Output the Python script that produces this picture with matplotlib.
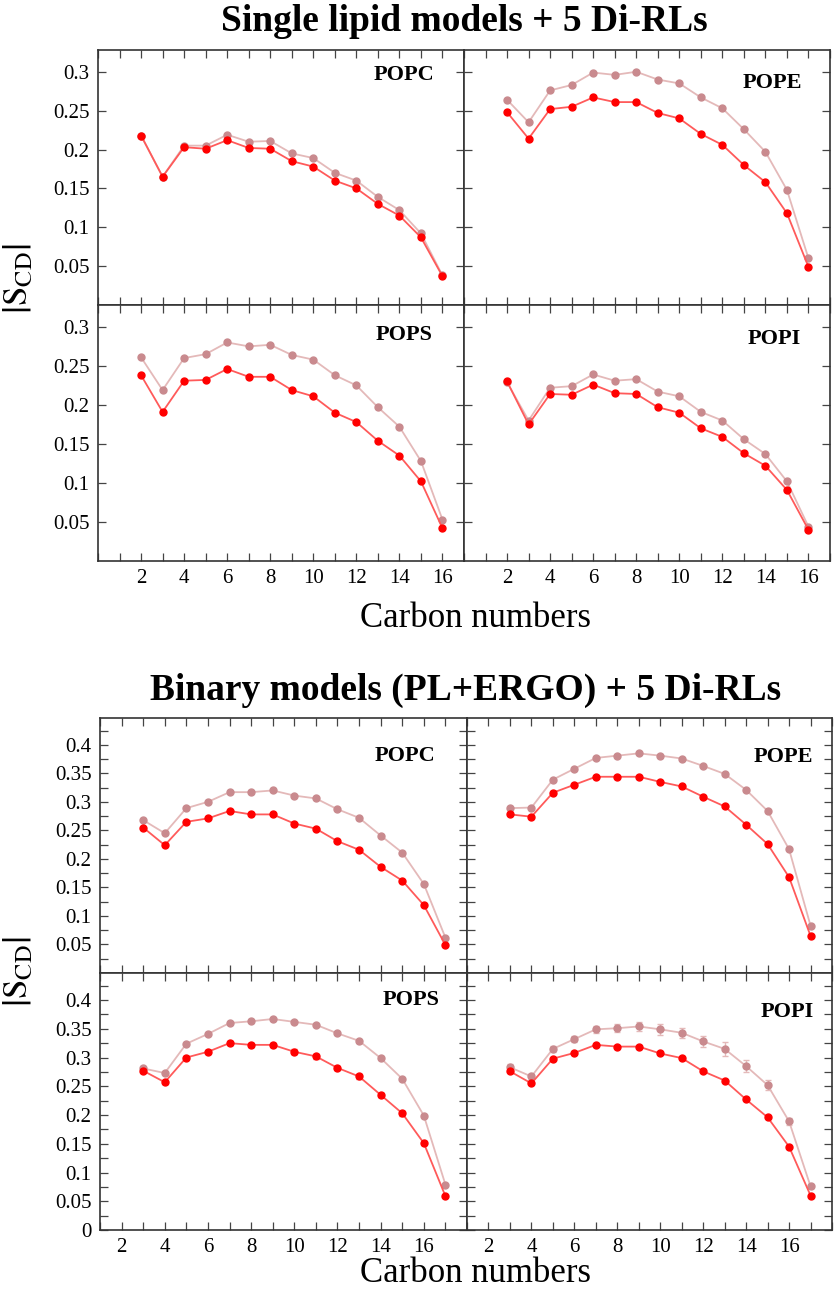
import matplotlib
matplotlib.use("Agg")
import matplotlib.pyplot as plt
from matplotlib.ticker import MultipleLocator

plt.rcParams['font.family'] = ['Liberation Serif', 'DejaVu Serif']
plt.rcParams['mathtext.fontset'] = 'stix'

# carbon positions
carbons_single = list(range(2, 17))
carbons_binary = list(range(3, 18))
xtick_vals = [2, 4, 6, 8, 10, 12, 14, 16]

# single lipid models (red = darker series, rosy = lighter series)
popc_s_red = [0.218, 0.165, 0.203, 0.201, 0.212, 0.202, 0.201, 0.185, 0.178, 0.160, 0.150, 0.130, 0.115, 0.087, 0.037]
popc_s_rosy = [0.218, 0.165, 0.205, 0.205, 0.219, 0.210, 0.211, 0.195, 0.189, 0.170, 0.160, 0.139, 0.122, 0.092, 0.038]
pope_s_red = [0.248, 0.214, 0.252, 0.255, 0.267, 0.261, 0.261, 0.247, 0.240, 0.220, 0.206, 0.180, 0.158, 0.118, 0.049]
pope_s_rosy = [0.264, 0.235, 0.276, 0.283, 0.299, 0.296, 0.300, 0.290, 0.285, 0.267, 0.253, 0.226, 0.197, 0.148, 0.060]
pops_s_red = [0.238, 0.191, 0.231, 0.232, 0.246, 0.236, 0.236, 0.219, 0.211, 0.190, 0.178, 0.154, 0.135, 0.102, 0.042]
pops_s_rosy = [0.261, 0.219, 0.260, 0.265, 0.280, 0.275, 0.277, 0.264, 0.258, 0.238, 0.225, 0.197, 0.172, 0.128, 0.053]
popi_s_red = [0.230, 0.175, 0.214, 0.213, 0.226, 0.215, 0.214, 0.197, 0.190, 0.170, 0.159, 0.138, 0.122, 0.091, 0.040]
popi_s_rosy = [0.229, 0.180, 0.222, 0.224, 0.239, 0.231, 0.233, 0.217, 0.211, 0.191, 0.180, 0.156, 0.137, 0.102, 0.044]

# binary models (PL+ERGO)
popc_b_red = [0.255, 0.224, 0.265, 0.271, 0.284, 0.278, 0.278, 0.262, 0.253, 0.231, 0.216, 0.186, 0.162, 0.119, 0.049]
popc_b_rosy = [0.268, 0.245, 0.289, 0.300, 0.317, 0.317, 0.320, 0.311, 0.306, 0.287, 0.272, 0.241, 0.211, 0.156, 0.062]
pope_b_red = [0.278, 0.274, 0.316, 0.330, 0.344, 0.344, 0.344, 0.335, 0.327, 0.309, 0.292, 0.260, 0.226, 0.168, 0.065]
pope_b_rosy = [0.289, 0.290, 0.339, 0.358, 0.377, 0.381, 0.385, 0.381, 0.376, 0.363, 0.349, 0.321, 0.284, 0.217, 0.083]
pops_b_red = [0.277, 0.257, 0.300, 0.310, 0.325, 0.322, 0.322, 0.310, 0.302, 0.282, 0.267, 0.235, 0.203, 0.151, 0.059]
pops_b_rosy = [0.281, 0.273, 0.324, 0.341, 0.360, 0.363, 0.367, 0.362, 0.357, 0.342, 0.329, 0.299, 0.263, 0.199, 0.079]
popi_b_red = [0.276, 0.255, 0.298, 0.308, 0.322, 0.319, 0.319, 0.307, 0.299, 0.276, 0.260, 0.227, 0.196, 0.145, 0.060]
popi_b_rosy = [0.283, 0.267, 0.315, 0.332, 0.349, 0.351, 0.354, 0.349, 0.343, 0.328, 0.315, 0.285, 0.252, 0.189, 0.076]

# error bars (only visible ones)
pops_b_red_err = [0.003, 0.003, 0.003, 0.003, 0.004, 0.004, 0.004, 0.004, 0.004, 0.004, 0.004, 0.004, 0.004, 0.003, 0.002]
popi_b_rosy_err = [0.006, 0.004, 0.005, 0.005, 0.006, 0.007, 0.008, 0.009, 0.009, 0.010, 0.012, 0.011, 0.009, 0.006, 0.003]

RED_MK, RED_LN = '#ff0000', '#ff5a5a'
ROSY_MK, ROSY_LN = '#c98a8e', '#e4b9b9'

W, H = 837, 1290
fig = plt.figure(figsize=(W / 100, H / 100), dpi=100)


def add_ax(left, top, right, bottom):
    return fig.add_axes([left / W, 1 - bottom / H, (right - left) / W, (bottom - top) / H])


def draw(ax, x, red, rosy, name, lab_dx, lab_dy, red_err=None, rosy_err=None):
    ax.errorbar(x, rosy, yerr=rosy_err, color=ROSY_LN, lw=1.3, marker='o', ms=5,
                mfc=ROSY_MK, mec=ROSY_MK, ecolor=ROSY_LN, elinewidth=1, capsize=2.5, zorder=2)
    ax.errorbar(x, red, yerr=red_err, color=RED_LN, lw=1.3, marker='o', ms=5,
                mfc=RED_MK, mec=RED_MK, ecolor=RED_LN, elinewidth=1, capsize=2.5, zorder=3)
    bb = ax.get_position()
    wpx, hpx = bb.width * W, bb.height * H
    ax.text(1 - lab_dx / wpx, 1 - lab_dy / hpx, name, transform=ax.transAxes,
            ha='right', va='center', fontsize=16, fontweight='bold')


def style(ax, xlim, ylim, yticks, yminor, show_x, show_y, ylabels):
    ax.set_xlim(*xlim)
    ax.set_ylim(*ylim)
    ax.set_xticks(xtick_vals)
    ax.xaxis.set_minor_locator(MultipleLocator(1))
    ax.set_yticks(yticks)
    if yminor:
        ax.yaxis.set_minor_locator(MultipleLocator(yminor))
    ax.tick_params(which='both', direction='in', top=True, right=True, length=6,
                   width=0.9, color='#444444', labelsize=15, pad=6)
    if show_x:
        ax.set_xticklabels([str(v) for v in xtick_vals])
    else:
        ax.tick_params(labelbottom=False)
    if show_y:
        ax.set_yticklabels(ylabels)
    else:
        ax.tick_params(labelleft=False)
    for s in ax.spines.values():
        s.set_color('#333333')
        s.set_linewidth(1.2)


# ---- top block: single lipid models ----
L1, R1, M1 = 98, 830, 464
T1, C1, B1 = 50, 305, 561
yt1 = [0.05, 0.1, 0.15, 0.2, 0.25, 0.3]
yl1 = ['0.05', '0.1', '0.15', '0.2', '0.25', '0.3']
top_panels = [
    ((L1, T1, M1, C1), popc_s_red, popc_s_rosy, 'POPC', 30, 25, False, True),
    ((M1, T1, R1, C1), pope_s_red, pope_s_rosy, 'POPE', 28, 33, False, False),
    ((L1, C1, M1, B1), pops_s_red, pops_s_rosy, 'POPS', 31, 30, True, True),
    ((M1, C1, R1, B1), popi_s_red, popi_s_rosy, 'POPI', 29, 34, True, False),
]
for rect, red, rosy, name, dx, dy, sx, sy in top_panels:
    ax = add_ax(*rect)
    style(ax, (0, 17), (0, 0.328), yt1, None, sx, sy, yl1)
    draw(ax, carbons_single, red, rosy, name, dx, dy)

fig.text(464 / W, 1 - 31 / H, 'Single lipid models + 5 Di-RLs', ha='center', va='baseline',
         fontsize=27, fontweight='bold')
fig.text(476 / W, 1 - 627 / H, 'Carbon numbers', ha='center', va='baseline', fontsize=25)
fig.text(19 / W, 1 - 279 / H, r'$\left|\mathrm{S}_{\mathrm{CD}}\right|$', ha='center', va='center',
         rotation=90, fontsize=25)

# ---- bottom block: binary models ----
L2, R2, M2 = 100, 832, 467
T2, C2, B2 = 718, 973, 1230
yt2 = [0, 0.05, 0.1, 0.15, 0.2, 0.25, 0.3, 0.35, 0.4]
yl2_top = ['', '0.05', '0.1', '0.15', '0.2', '0.25', '0.3', '0.35', '0.4']
yl2_bot = ['0', '0.05', '0.1', '0.15', '0.2', '0.25', '0.3', '0.35', '0.4']
bot_panels = [
    ((L2, T2, M2, C2), popc_b_red, popc_b_rosy, 'POPC', 32, 38, False, True, yl2_top, None, None),
    ((M2, T2, R2, C2), pope_b_red, pope_b_rosy, 'POPE', 19, 39, False, False, yl2_top, None, None),
    ((L2, C2, M2, B2), pops_b_red, pops_b_rosy, 'POPS', 27, 27, True, True, yl2_bot, pops_b_red_err, None),
    ((M2, C2, R2, B2), popi_b_red, popi_b_rosy, 'POPI', 18, 39, True, False, yl2_bot, None, popi_b_rosy_err),
]
for rect, red, rosy, name, dx, dy, sx, sy, yl, rerr, serr in bot_panels:
    ax = add_ax(*rect)
    style(ax, (1, 18), (0, 0.447), yt2, 0.025, sx, sy, yl)
    draw(ax, carbons_binary, red, rosy, name, dx, dy, rerr, serr)

fig.text(466 / W, 1 - 700 / H, 'Binary models (PL+ERGO) + 5 Di-RLs', ha='center', va='baseline',
         fontsize=27, fontweight='bold')
fig.text(476 / W, 1 - 1282 / H, 'Carbon numbers', ha='center', va='baseline', fontsize=25)
fig.text(19 / W, 1 - 972 / H, r'$\left|\mathrm{S}_{\mathrm{CD}}\right|$', ha='center', va='center',
         rotation=90, fontsize=25)

fig.savefig('out.png', dpi=100)
